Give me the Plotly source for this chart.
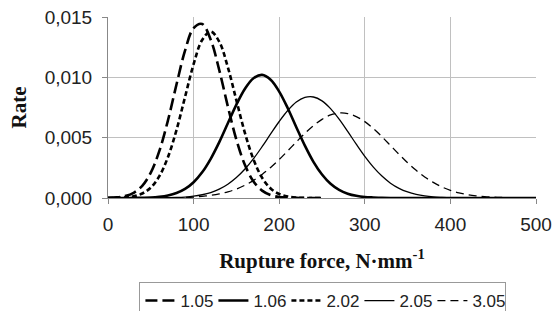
import plotly.graph_objects as go

# Rupture force grid (N/mm)
x_full = [0, 10, 20, 30, 40, 50, 60, 70, 80, 90, 100, 110, 120, 130, 140, 150, 160, 170, 180, 190,
          200, 210, 220, 230, 240, 250, 260, 270, 280, 290, 300, 310, 320, 330, 340, 350, 360, 370,
          380, 390, 400, 410, 420, 430, 440, 450, 460, 470, 480, 490, 500]
x_short = x_full[:26]

rate_105 = [0.00002, 0.00005, 0.00016, 0.00043, 0.00101, 0.00210, 0.00390, 0.00642, 0.00940, 0.01221,
            0.01408, 0.01442, 0.01312, 0.01059, 0.00759, 0.00483, 0.00273, 0.00137, 0.00061, 0.00024,
            0.00008, 0.00003, 0.00001, 0, 0, 0]
rate_106 = [0, 0, 0, 0.00001, 0.00002, 0.00004, 0.00010, 0.00021, 0.00041, 0.00075,
            0.00131, 0.00213, 0.00325, 0.00463, 0.00619, 0.00774, 0.00906, 0.00993, 0.01020, 0.00980,
            0.00882, 0.00744, 0.00587, 0.00434, 0.00300, 0.00195, 0.00118, 0.00067, 0.00036, 0.00018,
            0.00008, 0.00004, 0.00001, 0, 0, 0, 0, 0, 0, 0,
            0, 0, 0, 0, 0, 0, 0, 0, 0, 0, 0]
rate_202 = [0, 0.00001, 0.00005, 0.00014, 0.00037, 0.00086, 0.00181, 0.00338, 0.00563, 0.00837,
            0.01109, 0.01310, 0.01380, 0.01295, 0.01084, 0.00809, 0.00538, 0.00319, 0.00168, 0.00079,
            0.00033, 0.00012, 0.00004, 0.00001, 0, 0]
rate_205 = [0, 0, 0, 0, 0, 0, 0.00001, 0.00002, 0.00004, 0.00008,
            0.00015, 0.00027, 0.00045, 0.00073, 0.00114, 0.00169, 0.00240, 0.00326, 0.00425, 0.00531,
            0.00634, 0.00725, 0.00795, 0.00833, 0.00837, 0.00805, 0.00741, 0.00654, 0.00552, 0.00446,
            0.00345, 0.00256, 0.00182, 0.00123, 0.00080, 0.00050, 0.00030, 0.00017, 0.00009, 0.00005,
            0.00002, 0.00001, 0, 0, 0, 0, 0, 0, 0, 0, 0]
rate_305 = [0, 0, 0, 0, 0, 0, 0.00001, 0.00002, 0.00003, 0.00005,
            0.00008, 0.00014, 0.00022, 0.00034, 0.00051, 0.00074, 0.00106, 0.00146, 0.00195, 0.00253,
            0.00319, 0.00391, 0.00464, 0.00536, 0.00600, 0.00652, 0.00688, 0.00704, 0.00700, 0.00675,
            0.00633, 0.00575, 0.00508, 0.00435, 0.00362, 0.00292, 0.00229, 0.00174, 0.00129, 0.00092,
            0.00064, 0.00043, 0.00028, 0.00018, 0.00011, 0.00007, 0.00004, 0.00002, 0.00001, 0.00001, 0]

series_names = ["1.05", "1.06", "2.02", "2.05", "3.05"]
y_ticks = [0, 0.005, 0.010, 0.015]
x_ticks = [0, 100, 200, 300, 400, 500]

fig = go.Figure()
styles = [
    (x_short, rate_105, dict(color="black", width=2.6, dash="12px,5px")),
    (x_full, rate_106, dict(color="black", width=2.6)),
    (x_short, rate_202, dict(color="black", width=2.6, dash="5px,3px")),
    (x_full, rate_205, dict(color="black", width=1.3)),
    (x_full, rate_305, dict(color="black", width=1.3, dash="8px,5px")),
]
for name, (xs, ys, ln) in zip(series_names, styles):
    fig.add_trace(go.Scatter(x=xs, y=ys, mode="lines", name=name,
                             line=dict(shape="spline", smoothing=1.0, **ln)))

fig.update_layout(
    width=552, height=311,
    margin=dict(l=108, r=16, t=17, b=113),
    plot_bgcolor="white", paper_bgcolor="white",
    separators=", ",
    font=dict(family="Liberation Sans, Arial, sans-serif", size=19, color="#222"),
    showlegend=True,
    legend=dict(orientation="h", xref="container", yref="container",
                x=0.585, xanchor="center", y=0.0932, yanchor="top",
                bordercolor="#999", borderwidth=1, bgcolor="white",
                font=dict(size=17), entrywidth=28, entrywidthmode="pixels",
                itemwidth=30, tracegroupgap=0),
)
fig.update_xaxes(
    range=[0, 500], tickvals=x_ticks, showgrid=True, gridcolor="#c0c0c0", gridwidth=1,
    showline=True, linecolor="#888", linewidth=1, ticks="outside", ticklen=5, tickcolor="#888",
    zeroline=False, automargin=False, ticklabelstandoff=4,
    title=dict(text="Rupture force, N·mm<sup>-1</sup>", standoff=19,
               font=dict(family="Liberation Serif, Times New Roman, serif", size=21, weight="bold", color="#111")),
)
fig.update_yaxes(
    range=[0, 0.015], tickvals=y_ticks, tickformat=".3f", showgrid=True, gridcolor="#c0c0c0", gridwidth=1,
    showline=True, linecolor="#888", linewidth=1, ticks="outside", ticklen=5, tickcolor="#888",
    zeroline=False, automargin=False, ticklabelstandoff=6,
    title=dict(text="Rate", standoff=12,
               font=dict(family="Liberation Serif, Times New Roman, serif", size=21, weight="bold", color="#111")),
)

fig.write_html("out.html", config={"displayModeBar": False},
               post_script="document.body.style.margin='0';")
